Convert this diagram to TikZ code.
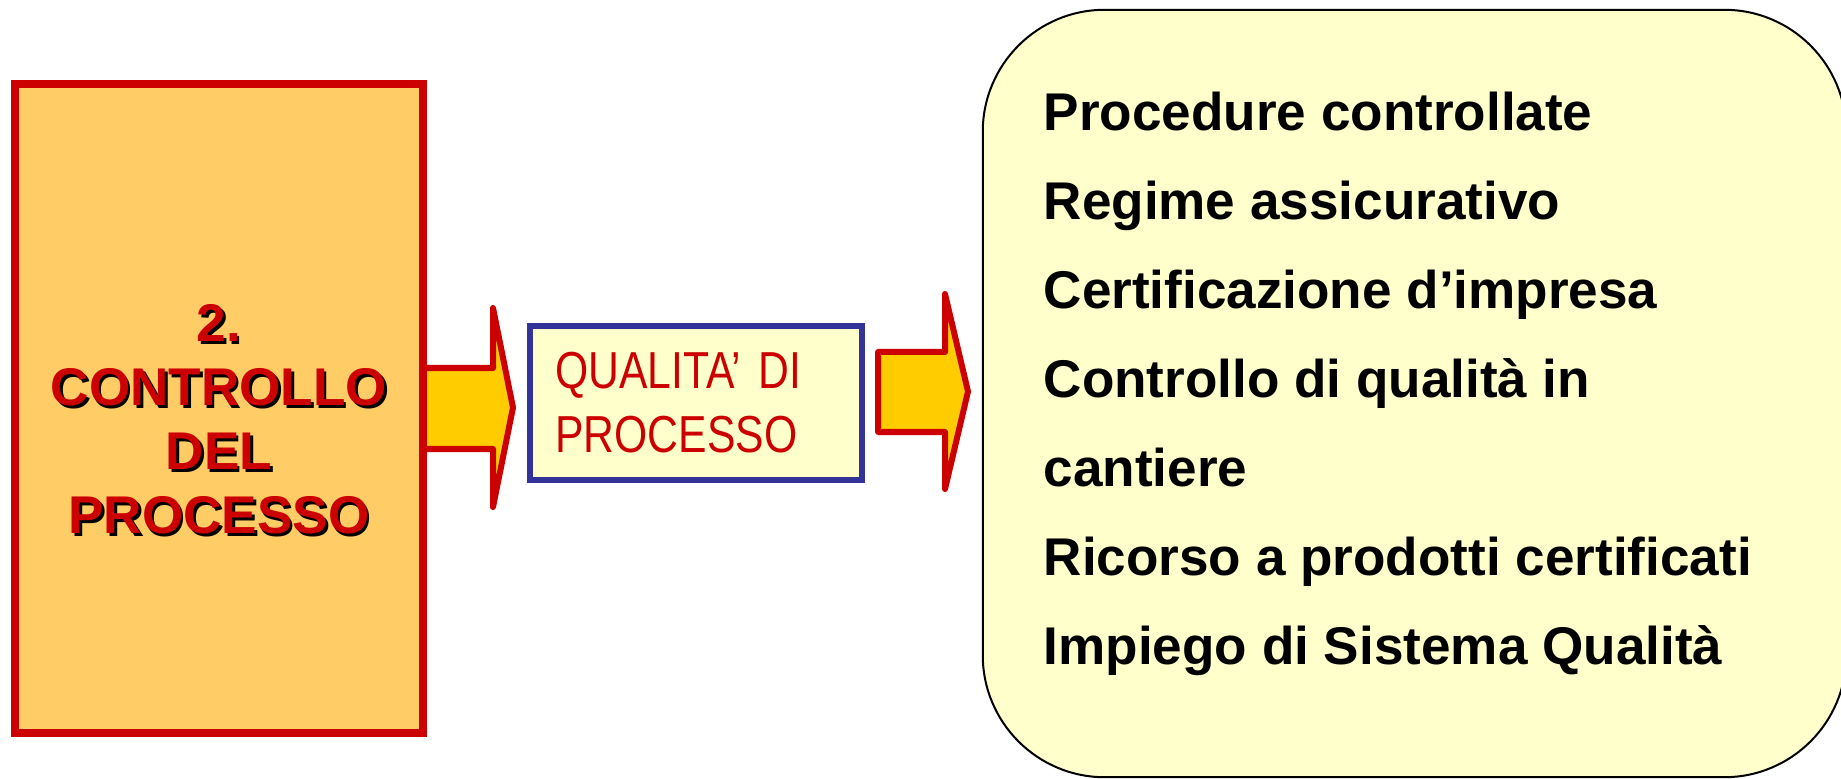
\documentclass[tikz,border=0pt]{standalone}
\usepackage{fontspec}
\setmainfont{Liberation Sans}
\newfontfamily\narrowfont[FakeStretch=0.82]{Liberation Sans}
\usetikzlibrary{positioning}
\usetikzlibrary{calc}
\definecolor{ctrlred}{HTML}{CC0000}
\definecolor{ctrlfill}{HTML}{FFCC66}
\definecolor{arrowfill}{HTML}{FFCC00}
\definecolor{qualblue}{HTML}{333399}
\definecolor{paleyellow}{HTML}{FFFFCC}
\tikzset{
    ctrlbox/.style = {rectangle, line width=0.08cm, draw=ctrlred, fill=ctrlfill, minimum width=4.08cm, minimum height=6.49cm, inner sep=0},
    ctrltext/.style = {align=center, inner sep=0, anchor=north, font=\bfseries\fontsize{15.1}{18.2}\selectfont},
    qualbox/.style = {rectangle, line width=0.06cm, draw=qualblue, fill=paleyellow, minimum width=3.32cm, minimum height=1.54cm, inner sep=0, text width=2.81cm, align=left, text=ctrlred, font=\narrowfont\fontsize{14.8}{18.2}\selectfont},
    listbox/.style = {rectangle, rounded corners=1.22cm, line width=0.02cm, draw=black, fill=paleyellow, minimum width=8.63cm, minimum height=7.67cm},
    itemtext/.style = {anchor=base west, inner sep=0, font=\bfseries\fontsize{15.1}{18.2}\selectfont},
    fatarrow/.style = {line width=0.06cm, draw=ctrlred, fill=arrowfill, line join=round},
}

\begin{document}
\begin{tikzpicture}[x=0.01cm, y=-0.01cm]
\useasboundingbox (0,0) rectangle (1841,779);
\node[ctrlbox] at (219, 408.5) (ctrl) {};
\node[ctrltext, text=black] at (221.5, 306.5) (ctrlshadow) {2.\\CONTROLLO\\DEL\\PROCESSO};
\node[ctrltext, text=ctrlred] at (219, 304) (ctrltitle) {2.\\CONTROLLO\\DEL\\PROCESSO};
\node[qualbox] at (696, 403) (qual) {QUALITA’ DI\\PROCESSO};
\node[listbox] at (1414.5, 393.5) (list) {};
%
\foreach \txt [count=\i] in {Procedure controllate, Regime assicurativo, Certificazione d’impresa, Controllo di qualità in, cantiere, Ricorso a prodotti certificati, Impiego di Sistema Qualità}
    \node[itemtext] at (1043, {131+89*(\i-1)}) (item\i) {\txt};
%
\filldraw[fatarrow] (ctrl.east |- 0,368) -- (493,368) -- (493,308) -- (513,407.5) -- (493,507) -- (493,449) -- (ctrl.east |- 0,449);
\filldraw[fatarrow] ([xshift=0.13cm]qual.east |- 0,352) -- (945,352) -- (945,294) -- (968,391.5) -- (945,489) -- (945,432) -- ([xshift=0.13cm]qual.east |- 0,432) -- cycle;
\end{tikzpicture}
\end{document}
